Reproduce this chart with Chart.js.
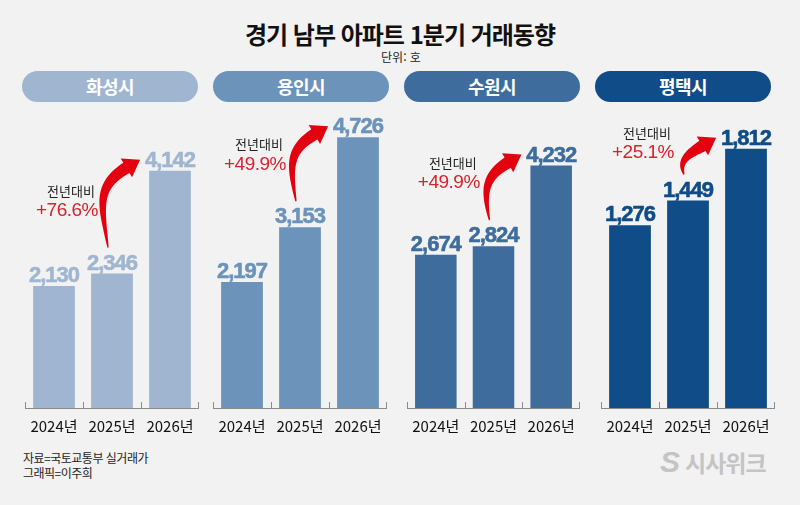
<!DOCTYPE html>
<html lang="ko">
<head>
<meta charset="utf-8">
<script src="https://cdn.jsdelivr.net/npm/chart.js@4/dist/chart.umd.min.js"></script>
<style>
  body { margin: 0; background: #f2f2f2; }
  #page { position: relative; width: 800px; height: 505px; overflow: hidden; background: #f2f2f2;
          font-family: "Noto Sans CJK KR", "Noto Sans", sans-serif; }
  .abs { position: absolute; }
  #title { top: 21px; left: 0; width: 800px; text-align: center; font-weight: bold; font-size: 24px;
           line-height: 26px; letter-spacing: -1px; color: #111; }
  #unit { top: 50px; left: 0; width: 802px; text-align: center; font-size: 12px; line-height: 14px; color: #222; }
  .pill { top: 71px; height: 31px; border-radius: 16px; color: #fff; font-weight: bold; font-size: 18px;
          line-height: 31px; text-align: center; letter-spacing: -0.5px; }
  #source { left: 23px; top: 450px; font-size: 12px; line-height: 15px; color: #222; letter-spacing: -0.5px; }
  #logo { left: 660px; top: 448px; color: #c4c4c4; font-weight: bold; font-size: 23px; line-height: 28px; letter-spacing: -1px; }
  #logo .s { display: inline-block; font-family: "Liberation Sans"; font-style: italic; font-size: 30px; margin-right: 6px; }
  canvas { position: absolute; }
</style>
</head>
<body>
<div id="page">
  <div id="title" class="abs">경기 남부 아파트 1분기 거래동향</div>
  <div id="unit" class="abs">단위: 호</div>
  <div id="source" class="abs">자료=국토교통부 실거래가<br>그래픽=이주희</div>
  <div id="logo" class="abs"><span class="s">S</span>시사위크</div>
</div>
<script>
// data
const regions = ["화성시", "용인시", "수원시", "평택시"];
const years = ["2024년", "2025년", "2026년"];
const hwaseong = [2130, 2346, 4142];
const yongin = [2197, 3153, 4726];
const suwon = [2674, 2824, 4232];
const pyeongtaek = [1276, 1449, 1812];
const growth = ["+76.6%", "+49.9%", "+49.9%", "+25.1%"];

const series = [hwaseong, yongin, suwon, pyeongtaek];
const colors = ["#a0b6d0", "#6c93ba", "#3e6d9d", "#0f4c88"];
const yMax = [5236, 5236, 5236, 2096];
const panelLeft = [25, 213, 407, 601];
const panelWidth = [174, 174, 173, 174];
const pillLeft = [22, 213, 404, 595];

const page = document.getElementById("page");

function drawArrow(ctx, B, T) {
    // curved arrow rising from B and pointing up-right at T
    let d = { x: 0.857, y: -0.514 };
    let headLen = 16, headHalf = 11;
    let E = { x: T.x - d.x * headLen, y: T.y - d.y * headLen };
    let dist = Math.hypot(E.x - B.x, E.y - B.y);
    let P1 = { x: B.x - 6, y: B.y - 0.5 * (B.y - E.y) };
    let P2 = { x: E.x - d.x * 0.45 * dist, y: E.y - d.y * 0.45 * dist };
    let left = [], right = [], N = 40, lastN = null;
    for (let i = 0; i <= N; i++) {
        let t = i / N, u = 1 - t;
        let px = u*u*u*B.x + 3*u*u*t*P1.x + 3*u*t*t*P2.x + t*t*t*E.x;
        let py = u*u*u*B.y + 3*u*u*t*P1.y + 3*u*t*t*P2.y + t*t*t*E.y;
        let dx = 3*u*u*(P1.x - B.x) + 6*u*t*(P2.x - P1.x) + 3*t*t*(E.x - P2.x);
        let dy = 3*u*u*(P1.y - B.y) + 6*u*t*(P2.y - P1.y) + 3*t*t*(E.y - P2.y);
        let len = Math.hypot(dx, dy) || 1;
        let n = { x: -dy / len, y: dx / len };
        let w = 0.6 + 5.4 * Math.pow(t, 0.8);
        left.push([px + n.x * w, py + n.y * w]);
        right.push([px - n.x * w, py - n.y * w]);
        lastN = n;
    }
    ctx.beginPath();
    ctx.moveTo(left[0][0], left[0][1]);
    left.forEach(p => ctx.lineTo(p[0], p[1]));
    ctx.lineTo(E.x + lastN.x * headHalf, E.y + lastN.y * headHalf);
    ctx.lineTo(T.x, T.y);
    ctx.lineTo(E.x - lastN.x * headHalf, E.y - lastN.y * headHalf);
    for (let i = right.length - 1; i >= 0; i--) ctx.lineTo(right[i][0], right[i][1]);
    ctx.closePath();
    ctx.fillStyle = "#e3000f";
    ctx.fill();
}

const trendPlugin = {
    id: "trend",
    afterDatasetsDraw(chart, args, opts) {
        let ctx = chart.ctx;
        let bars = chart.getDatasetMeta(0).data;
        let values = chart.data.datasets[0].data;
        let xs = chart.scales.x;
        let area = chart.chartArea;
        ctx.save();

        // tick marks between categories
        ctx.strokeStyle = "#8a8a8a";
        ctx.lineWidth = 1;
        let step = (xs.right - xs.left) / values.length;
        for (let i = 0; i <= values.length; i++) {
            let x = Math.round(xs.left + i * step) + (i === values.length ? -0.5 : 0.5);
            ctx.beginPath();
            ctx.moveTo(x, area.bottom - 6);
            ctx.lineTo(x, area.bottom);
            ctx.stroke();
        }

        // value labels
        ctx.fillStyle = opts.color;
        ctx.strokeStyle = opts.color;
        ctx.lineWidth = 0.6;
        ctx.lineJoin = "round";
        ctx.font = 'bold 22px "Liberation Sans"';
        ctx.letterSpacing = "-1px";
        ctx.textAlign = "center";
        ctx.textBaseline = "alphabetic";
        bars.forEach((b, i) => {
            let s = values[i].toLocaleString("en-US");
            ctx.fillText(s, b.x, b.y - 4);
            ctx.strokeText(s, b.x, b.y - 4);
        });
        ctx.letterSpacing = "0px";

        // growth arrow from 2025 to 2026
        let B = { x: bars[1].x - 4, y: bars[1].y - 26 };
        let T = { x: bars[2].x - bars[2].width / 2 - 9, y: bars[2].y - 11 };
        drawArrow(ctx, B, T);

        let tx = bars[0].x + 17;
        let ty = Math.max(B.y - 57, T.y - 5);
        ctx.fillStyle = "#222";
        ctx.font = '13px "Noto Sans CJK KR"';
        ctx.textBaseline = "middle";
        ctx.fillText("전년대비", tx, ty);
        ctx.fillStyle = "#d8232a";
        ctx.font = '19px "Liberation Sans"';
        ctx.letterSpacing = "-0.5px";
        ctx.fillText(opts.text, tx - 4, ty + 20);
        ctx.restore();
    }
};

regions.forEach((name, k) => {
    let pill = document.createElement("div");
    pill.className = "abs pill";
    pill.style.left = pillLeft[k] + "px";
    pill.style.width = "176px";
    pill.style.background = colors[k];
    pill.textContent = name;
    page.appendChild(pill);

    let canvas = document.createElement("canvas");
    canvas.width = panelWidth[k];
    canvas.height = 332;
    canvas.style.left = panelLeft[k] + "px";
    canvas.style.top = "108px";
    page.appendChild(canvas);

    new Chart(canvas.getContext("2d"), {
        type: "bar",
        data: {
            labels: years,
            datasets: [{
                label: name,
                data: series[k],
                backgroundColor: colors[k],
                barPercentage: 0.72,
                categoryPercentage: 1.0
            }]
        },
        options: {
            responsive: false,
            animation: false,
            layout: { padding: 0 },
            plugins: {
                legend: { display: false },
                tooltip: { enabled: false },
                trend: { color: colors[k], text: growth[k] }
            },
            scales: {
                x: {
                    grid: { display: false, drawTicks: true, tickLength: 4 },
                    border: { display: true, color: "#8a8a8a", width: 1 },
                    ticks: {
                        color: "#111",
                        padding: 5,
                        font: { family: "Noto Sans CJK KR", size: 15 },
                        maxRotation: 0,
                        autoSkip: false
                    }
                },
                y: { display: false, min: 0, max: yMax[k] }
            }
        },
        plugins: [trendPlugin]
    });
});
</script>
</body>
</html>
